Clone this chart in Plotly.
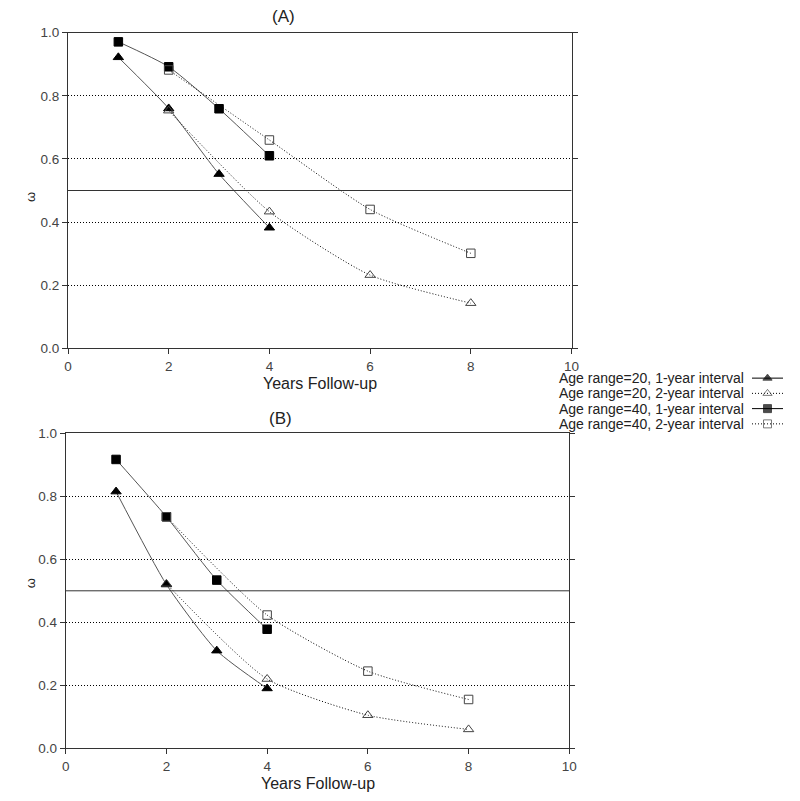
import plotly.graph_objects as go

# ---------------- data ----------------
years_1yr = [1, 2, 3, 4]
years_2yr = [2, 4, 6, 8]

# Panel (A)
a_age20_1yr = [0.922, 0.760, 0.552, 0.382]
a_age20_2yr = [0.753, 0.433, 0.232, 0.143]
a_age40_1yr = [0.971, 0.892, 0.759, 0.610]
a_age40_2yr = [0.882, 0.660, 0.440, 0.301]

# Panel (B)
b_age20_1yr = [0.815, 0.520, 0.310, 0.190]
b_age20_2yr = [0.522, 0.220, 0.105, 0.060]
b_age40_1yr = [0.917, 0.735, 0.534, 0.378]
b_age40_2yr = [0.735, 0.423, 0.245, 0.155]

series_names = [
    "Age range=20, 1-year interval",
    "Age range=20, 2-year interval",
    "Age range=40, 1-year interval",
    "Age range=40, 2-year interval",
]
panel_titles = ["(A)", "(B)"]
x_title = "Years Follow-up"
y_title = "ω"
x_ticks = [0, 2, 4, 6, 8, 10]
y_ticks = [0.0, 0.2, 0.4, 0.6, 0.8, 1.0]
ref_level = 0.5

# ---------------- styles ----------------
FONT = "Arial, Liberation Sans, sans-serif"
OFF = 8            # page body margin
W, H = 800 - 2 * OFF, 801 - 2 * OFF
DOT = "1px,2px"

def px(p):
    return (p - OFF) / W

def py(p):
    return 1 - (p - OFF) / H

styles = [
    dict(symbol="triangle-up", dash="solid", lc="#555555", mc="black", ml="black", size=9),
    dict(symbol="triangle-up-open", dash=DOT, lc="black", mc="#444444", ml="#444444", size=9),
    dict(symbol="square", dash="solid", lc="#555555", mc="black", ml="black", size=8.5),
    dict(symbol="square-open", dash=DOT, lc="black", mc="#444444", ml="#444444", size=8.5),
]

fig = go.Figure()

panels = [
    ("x", "y", [a_age20_1yr, a_age20_2yr, a_age40_1yr, a_age40_2yr]),
    ("x2", "y2", [b_age20_1yr, b_age20_2yr, b_age40_1yr, b_age40_2yr]),
]
xs = [years_1yr, years_2yr, years_1yr, years_2yr]

for xa, ya, vals in panels:
    for i, v in enumerate(vals):
        st = styles[i]
        fig.add_trace(go.Scatter(
            x=xs[i], y=v, xaxis=xa, yaxis=ya, mode="lines+markers",
            line=dict(color=st["lc"], width=1, dash=st["dash"], shape="spline", smoothing=0.6),
            marker=dict(symbol=st["symbol"], size=st["size"], color=st["mc"],
                        line=dict(color=st["ml"], width=1)),
            showlegend=False, cliponaxis=False,
        ))

# custom legend samples (symbol on the right of the text)
legend_rows = [3, 2, 1, 0]
for i, name in enumerate(series_names):
    st = styles[i]
    fig.add_trace(go.Scatter(
        x=[0, 0.5, 1], y=[legend_rows[i]] * 3, xaxis="x3", yaxis="y3",
        mode="lines+markers",
        line=dict(color="black", width=1, dash=st["dash"]),
        marker=dict(symbol=st["symbol"], size=[0, 8, 0], color=st["mc"],
                    line=dict(color=st["ml"], width=1)),
        showlegend=False, cliponaxis=False, hoverinfo="skip",
    ))
    fig.add_annotation(x=px(746), xref="paper", y=legend_rows[i], yref="y3",
                       text=name, showarrow=False, xanchor="right", yanchor="middle",
                       font=dict(family=FONT, size=14, color="#222"))

axis_common = dict(
    showline=True, linecolor="#333333", linewidth=1, ticks="outside", ticklen=5,
    tickcolor="#333333", tickfont=dict(family=FONT, size=13.5, color="#444444"),
    automargin=False, zeroline=False,
)

xa_dom = [[px(68), px(571.5)], [px(65.7), px(569.3)]]
ya_dom = [[py(348.3), py(32.7)], [py(748.3), py(433.3)]]

layout = dict(
    width=W, height=H, margin=dict(l=0, r=0, t=0, b=0),
    paper_bgcolor="white", plot_bgcolor="white", showlegend=False,
)
for k, (xn, yn) in enumerate([("xaxis", "yaxis"), ("xaxis2", "yaxis2")]):
    ysuf = "y" if k == 0 else "y2"
    xsuf = "x" if k == 0 else "x2"
    layout[xn] = dict(axis_common, domain=xa_dom[k], range=[0, 10], tickvals=x_ticks,
                      showgrid=False, mirror=True, anchor=ysuf)
    layout[yn] = dict(axis_common, domain=ya_dom[k], range=[0, 1], tickvals=y_ticks,
                      tickformat=".1f", showgrid=True, gridcolor="black", gridwidth=1,
                      griddash=DOT, mirror="ticks", anchor=xsuf)

layout["xaxis3"] = dict(domain=[px(752), px(783)], range=[0, 1], visible=False, anchor="y3")
layout["yaxis3"] = dict(domain=[py(431.5), py(370.5)], range=[-0.5, 3.5], visible=False, anchor="x3")
fig.update_layout(**layout)

# reference line at 0.5
for xr, yr in [("x", "y"), ("x2", "y2")]:
    fig.add_shape(type="line", xref=xr + " domain", yref=yr, x0=0, x1=1, y0=ref_level, y1=ref_level,
                  line=dict(color="#333333", width=1))

# titles
title_pos = [(283.5, 17), (280, 418)]
xtitle_pos = [(320, 383), (318, 783)]
for k in range(2):
    y0, y1 = ya_dom[k]
    fig.add_annotation(x=px(title_pos[k][0]), y=py(title_pos[k][1]), xref="paper", yref="paper",
                       text=panel_titles[k], showarrow=False, yanchor="middle",
                       font=dict(family=FONT, size=17, color="#222"))
    fig.add_annotation(x=px(xtitle_pos[k][0]), y=py(xtitle_pos[k][1]), xref="paper", yref="paper",
                       text=x_title, showarrow=False, yanchor="middle",
                       font=dict(family=FONT, size=16, color="#222"))
    fig.add_annotation(x=px(21), y=(y0 + y1) / 2, xref="paper", yref="paper",
                       text=y_title, showarrow=False, textangle=-90,
                       font=dict(family=FONT, size=13, color="#222"))

fig.write_html("out.html")
